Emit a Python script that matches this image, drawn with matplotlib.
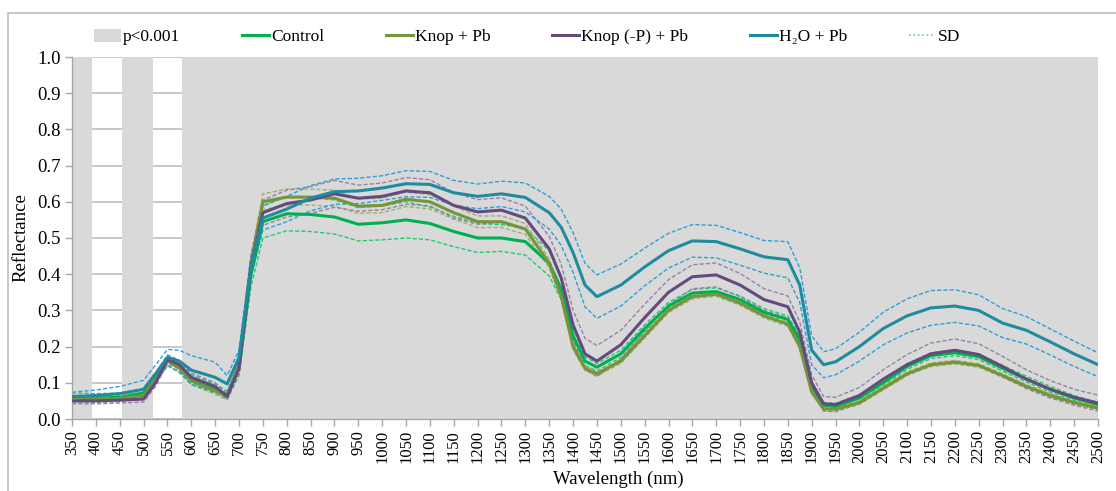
import matplotlib
matplotlib.use("Agg")
import matplotlib.pyplot as plt
from matplotlib.patches import Patch, Rectangle
from matplotlib.lines import Line2D
import numpy as np

plt.rcParams['font.family'] = ['Liberation Serif', 'DejaVu Serif']

wavelength = [350, 400, 450, 500, 525, 550, 575, 600, 650, 675, 700, 725, 750, 800, 850,
              900, 950, 1000, 1050, 1100, 1150, 1200, 1250, 1300, 1350, 1375, 1400, 1425,
              1450, 1500, 1550, 1600, 1650, 1700, 1750, 1800, 1850, 1875, 1900, 1925, 1950,
              2000, 2050, 2100, 2150, 2200, 2250, 2300, 2350, 2400, 2450, 2500]

control = [0.060, 0.058, 0.060, 0.072, 0.115, 0.162, 0.145, 0.110, 0.085, 0.065, 0.140, 0.400,
           0.545, 0.567, 0.565, 0.558, 0.538, 0.542, 0.550, 0.540, 0.518, 0.500, 0.500, 0.490,
           0.430, 0.360, 0.230, 0.160, 0.143, 0.180, 0.250, 0.312, 0.348, 0.352, 0.330, 0.295,
           0.275, 0.220, 0.090, 0.038, 0.035, 0.058, 0.100, 0.145, 0.175, 0.183, 0.172, 0.140,
           0.110, 0.082, 0.058, 0.040]
control_sd = [0.012, 0.012, 0.012, 0.012, 0.013, 0.015, 0.014, 0.012, 0.012, 0.012, 0.020, 0.035,
              0.045, 0.047, 0.047, 0.047, 0.046, 0.047, 0.050, 0.045, 0.042, 0.040, 0.037, 0.037,
              0.035, 0.030, 0.020, 0.012, 0.010, 0.010, 0.010, 0.010, 0.010, 0.010, 0.010, 0.010,
              0.010, 0.010, 0.008, 0.008, 0.008, 0.008, 0.008, 0.008, 0.008, 0.008, 0.008, 0.008,
              0.008, 0.008, 0.007, 0.006]

knop_pb = [0.058, 0.055, 0.057, 0.065, 0.110, 0.160, 0.140, 0.105, 0.078, 0.062, 0.150, 0.430,
           0.600, 0.613, 0.613, 0.610, 0.588, 0.590, 0.607, 0.600, 0.570, 0.545, 0.545, 0.525,
           0.430, 0.340, 0.200, 0.140, 0.125, 0.160, 0.230, 0.300, 0.338, 0.345, 0.320, 0.285,
           0.262, 0.200, 0.075, 0.028, 0.027, 0.045, 0.085, 0.125, 0.150, 0.157, 0.148, 0.120,
           0.090, 0.065, 0.045, 0.030]
knop_pb_sd = [0.008, 0.008, 0.008, 0.008, 0.010, 0.012, 0.012, 0.010, 0.010, 0.008, 0.015, 0.020,
              0.022, 0.022, 0.022, 0.022, 0.020, 0.020, 0.020, 0.020, 0.018, 0.016, 0.016, 0.015,
              0.012, 0.010, 0.008, 0.006, 0.006, 0.006, 0.006, 0.006, 0.006, 0.006, 0.006, 0.006,
              0.006, 0.006, 0.005, 0.005, 0.005, 0.005, 0.005, 0.005, 0.005, 0.005, 0.005, 0.005,
              0.005, 0.005, 0.004, 0.004]

knop_p_pb = [0.050, 0.050, 0.052, 0.055, 0.100, 0.165, 0.150, 0.115, 0.090, 0.062, 0.140, 0.420,
             0.570, 0.595, 0.605, 0.622, 0.610, 0.615, 0.630, 0.625, 0.590, 0.572, 0.577, 0.555,
             0.470, 0.390, 0.260, 0.180, 0.160, 0.205, 0.280, 0.350, 0.393, 0.398, 0.370, 0.330,
             0.310, 0.240, 0.100, 0.042, 0.040, 0.065, 0.110, 0.150, 0.180, 0.190, 0.178, 0.145,
             0.110, 0.082, 0.060, 0.044]
knop_p_pb_sd = [0.008, 0.008, 0.008, 0.008, 0.010, 0.012, 0.012, 0.012, 0.010, 0.008, 0.015, 0.030,
                0.035, 0.037, 0.037, 0.037, 0.036, 0.037, 0.037, 0.036, 0.035, 0.034, 0.034, 0.033,
                0.035, 0.038, 0.040, 0.043, 0.043, 0.040, 0.037, 0.035, 0.033, 0.033, 0.032, 0.030,
                0.030, 0.028, 0.022, 0.020, 0.020, 0.022, 0.026, 0.028, 0.030, 0.031, 0.030, 0.028,
                0.026, 0.024, 0.022, 0.022]

h2o_pb = [0.062, 0.065, 0.070, 0.082, 0.125, 0.170, 0.160, 0.135, 0.115, 0.097, 0.170, 0.420,
          0.555, 0.580, 0.610, 0.628, 0.630, 0.638, 0.650, 0.648, 0.625, 0.615, 0.622, 0.612,
          0.570, 0.530, 0.460, 0.370, 0.338, 0.370, 0.420, 0.465, 0.492, 0.490, 0.470, 0.448,
          0.440, 0.370, 0.190, 0.150, 0.158, 0.200, 0.250, 0.285, 0.307, 0.312, 0.300, 0.265,
          0.245, 0.213, 0.180, 0.150]
h2o_pb_sd = [0.012, 0.015, 0.020, 0.025, 0.024, 0.022, 0.030, 0.040, 0.042, 0.023, 0.020, 0.030,
             0.033, 0.035, 0.035, 0.035, 0.035, 0.034, 0.036, 0.036, 0.034, 0.034, 0.035, 0.040,
             0.045, 0.050, 0.055, 0.060, 0.060, 0.058, 0.052, 0.048, 0.045, 0.045, 0.045, 0.045,
             0.050, 0.048, 0.040, 0.036, 0.036, 0.040, 0.045, 0.047, 0.048, 0.045, 0.043, 0.040,
             0.038, 0.036, 0.035, 0.033]

sig_regions = [(350, 392), (455, 519), (580, 2500)]

series = [
    ("Control", control, control_sd, "#00B050", "#1FCC6E"),
    ("Knop + Pb", knop_pb, knop_pb_sd, "#77933C", "#9CB368"),
    ("Knop (-P) + Pb", knop_p_pb, knop_p_pb_sd, "#65497F", "#9483A8"),
    ("H\u2082O + Pb", h2o_pb, h2o_pb_sd, "#1F8B9E", "#2E9FD8"),
]

fig = plt.figure(figsize=(11.16, 4.91), dpi=100)
ax = fig.add_axes([72 / 1116, 1 - 419 / 491, (1098 - 72) / 1116, (419 - 57) / 491])

for a, b in sig_regions:
    ax.axvspan(a, b, color="#D9D9D9", lw=0, zorder=1)

ax.set_axisbelow(True)
ax.yaxis.grid(True, color="#BFBFBF", lw=1.2)

w = np.array(wavelength)
for name, m, sd, c, csd in series:
    m = np.array(m)
    sd = np.array(sd)
    ax.plot(w, m + sd, color=csd, lw=1.0, ls=(0, (3, 1.5)), zorder=2)
    ax.plot(w, m - sd, color=csd, lw=1.0, ls=(0, (3, 1.5)), zorder=2)
for name, m, sd, c, csd in series:
    ax.plot(w, m, color=c, lw=2.2, zorder=3, solid_capstyle='round', solid_joinstyle='round')

ax.set_xlim(350, 2500)
ax.set_ylim(0, 1.0)
xt = list(range(350, 2501, 50))
ax.set_xticks(xt)
ax.set_xticklabels([str(t) for t in xt], rotation=90, fontsize=12)
ax.set_yticks(np.arange(0, 1.01, 0.1))
ax.set_yticklabels([f"{v:.1f}" for v in np.arange(0, 1.01, 0.1)], fontsize=13.5)
ax.tick_params(axis='both', direction='out', length=5, color="#A6A6A6", width=1, pad=3)
for s in ["top", "right"]:
    ax.spines[s].set_visible(False)
for s in ["left", "bottom"]:
    ax.spines[s].set_color("#A6A6A6")
    ax.spines[s].set_linewidth(1)
ax.set_xlabel("Wavelength (nm)", fontsize=13.5)
ax.xaxis.set_label_coords(0.532, -0.142)
ax.set_ylabel("Reflectance", fontsize=13.5, labelpad=6)

handles = [Patch(facecolor="#D9D9D9", edgecolor="none", label="p<0.001")]
for name, m, sd, c, csd in series:
    handles.append(Line2D([0], [0], color=c, lw=2.2, label=name))
handles.append(Line2D([0], [0], color="#5CD6A0", lw=1.2, ls=":", label="SD"))
fig.legend(handles=handles, loc="center", bbox_to_anchor=(527 / 1116, 1 - 37 / 491), ncol=6,
           frameon=False, fontsize=12.5, handlelength=1.55, handletextpad=0.12, columnspacing=3.55,
           handleheight=0.8)

fig.add_artist(Rectangle((8 / 1116, -0.05), 1.2, 1 - 13 / 491 + 0.05, transform=fig.transFigure,
                         fill=False, edgecolor="#BFBFBF", lw=1.2))

fig.savefig("out.png", dpi=100)
